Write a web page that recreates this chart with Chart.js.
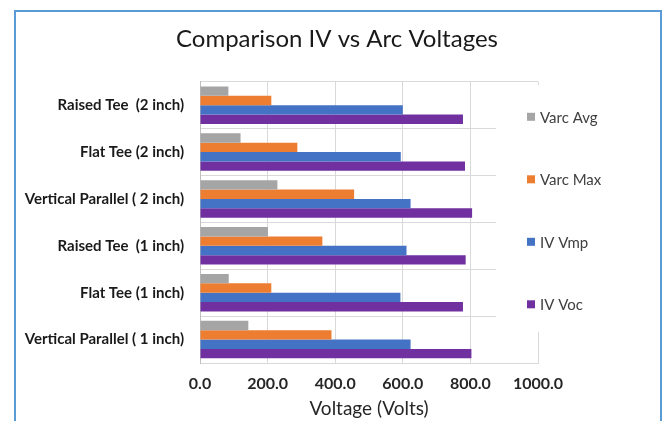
<!DOCTYPE html>
<html>
<head>
<meta charset="utf-8">
<script src="https://cdn.jsdelivr.net/npm/chart.js@4"></script>
<style>
  body { margin: 0; background: #fff; }
  #wrap { width: 667px; height: 421px; }
</style>
</head>
<body>
<div id="wrap"><canvas id="voltChart" width="667" height="421"></canvas></div>
<script>
// Data
const categories = ['Raised Tee  (2 inch)', 'Flat Tee (2 inch)', 'Vertical Parallel ( 2 inch)',
    'Raised Tee  (1 inch)', 'Flat Tee (1 inch)', 'Vertical Parallel ( 1 inch)'];
const varcAvg = [84, 120, 229, 201, 85, 143];
const varcMax = [211, 288, 456, 362, 211, 389];
const ivVmp = [600, 594, 623, 611, 593, 623];
const ivVoc = [778, 784, 805, 786, 778, 803];
const xTicks = [0, 200, 400, 600, 800, 1000];

const seriesNames = ['Varc Avg', 'Varc Max', 'IV Vmp', 'IV Voc'];
const seriesColors = ['#a5a5a5', '#ed7d31', '#4472c4', '#7030a0'];
const seriesData = [varcAvg, varcMax, ivVmp, ivVoc];

// outer frame like the office chart box
const framePlugin = {
    id: 'frame',
    beforeDraw(chart) {
        const c = chart.ctx;
        c.save();
        c.strokeStyle = '#5b9bd5';
        c.lineWidth = 2;
        c.strokeRect(15, 11, 646, 440);
        c.restore();
    }
};

// legend sits over the right part of the plot, stacked with wide gaps
const sideLegend = {
    id: 'sideLegend',
    afterDraw(chart) {
        const c = chart.ctx;
        const area = chart.chartArea;
        c.save();
        c.fillStyle = '#fff';
        c.fillRect(area.right - 42, area.top + 3, 118, 247);
        c.font = '15px Lato';
        c.textBaseline = 'middle';
        chart.data.datasets.forEach((ds, i) => {
            const y = area.top + 35 + i * 62.5;
            const x = area.right - 11;
            c.fillStyle = ds.backgroundColor;
            c.fillRect(x, y - 4, 8, 8);
            c.fillStyle = '#404040';
            c.fillText(ds.label, x + 13, y + 1);
        });
        c.restore();
    }
};

const ctx = document.getElementById('voltChart').getContext('2d');
new Chart(ctx, {
    type: 'bar',
    data: {
        labels: categories,
        datasets: seriesNames.map((name, i) => ({
            label: name,
            data: seriesData[i],
            backgroundColor: seriesColors[i],
            borderWidth: 0,
            categoryPercentage: 0.8,
            barPercentage: 1.0
        }))
    },
    options: {
        indexAxis: 'y',
        responsive: false,
        animation: false,
        layout: {
            padding: { left: 14, right: 7, top: 14, bottom: 0 }
        },
        plugins: {
            legend: { display: false },
            tooltip: { enabled: false },
            title: {
                display: true,
                text: 'Comparison IV vs Arc Voltages',
                color: '#1a1a1a',
                font: { family: 'Lato', size: 24, weight: 'normal' },
                padding: { top: 11, bottom: 28 }
            }
        },
        scales: {
            x: {
                min: 0,
                max: 1000,
                afterBuildTicks(scale) {
                    scale.ticks = xTicks.map(v => ({ value: v }));
                },
                afterFit(scale) { scale.height = 58; },
                grid: { color: '#d9d9d9', drawTicks: false },
                border: { color: '#d9d9d9' },
                ticks: {
                    padding: 11,
                    maxRotation: 0,
                    color: '#262626',
                    font: { family: 'Lato', size: 16, weight: 'bold' },
                    callback: v => Number(v).toFixed(1)
                },
                title: {
                    display: true,
                    text: 'Voltage (Volts)',
                    color: '#262626',
                    font: { family: 'Lato', size: 19 },
                    padding: { top: 8, bottom: 1 }
                }
            },
            y: {
                afterFit(scale) { scale.width = 186; },
                grid: { color: '#d9d9d9', drawTicks: false, offset: true },
                border: { color: '#bfbfbf' },
                ticks: {
                    padding: 16,
                    color: '#1a1a1a',
                    font: { family: 'Lato', size: 15, weight: 'bold' }
                }
            },
            // empty axis that only keeps room for the legend on the right
            yRoom: {
                type: 'linear',
                position: 'right',
                afterFit(scale) { scale.width = 122; },
                grid: { display: false },
                border: { display: false },
                ticks: { display: false }
            }
        }
    },
    plugins: [framePlugin, sideLegend]
});
</script>
</body>
</html>
